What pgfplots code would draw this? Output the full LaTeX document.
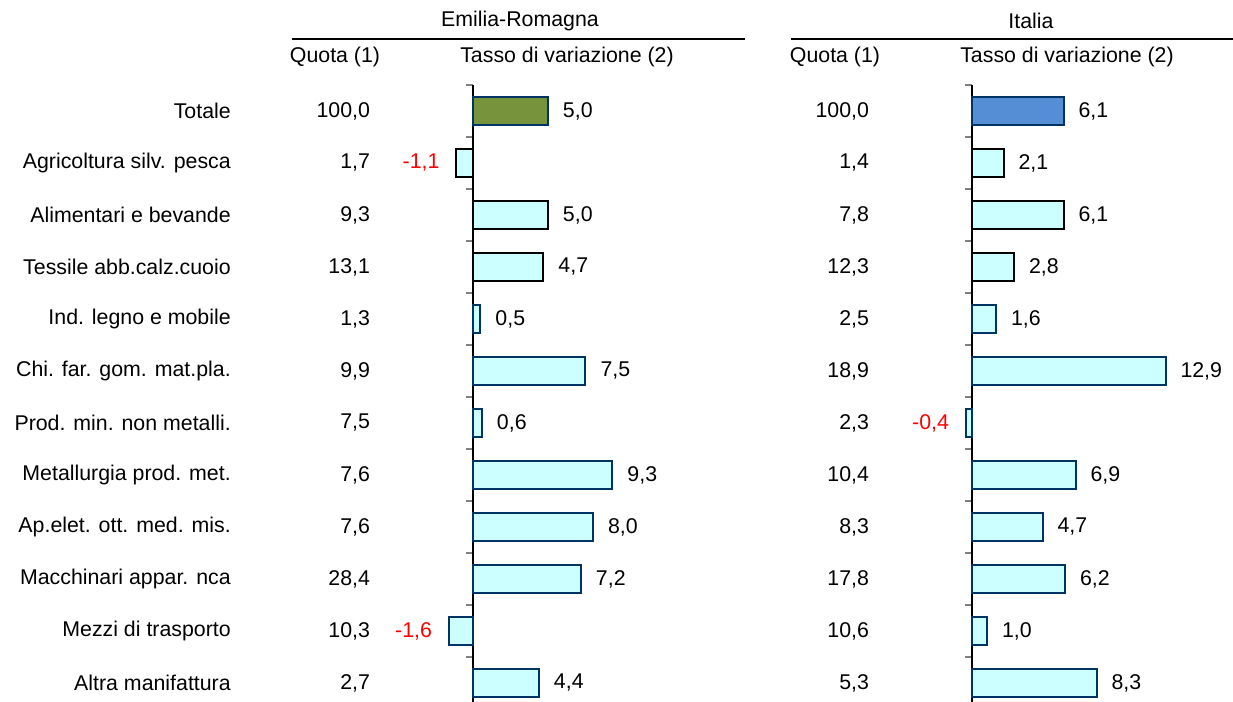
\documentclass[border=0pt]{standalone}
\usepackage{fontspec}
\setmainfont{Liberation Sans}
\usepackage{pgfplots}
\pgfplotsset{compat=1.18}
\definecolor{cyanfill}{HTML}{CCFFFF}
\definecolor{navy}{HTML}{003366}
\definecolor{olivebar}{HTML}{77933C}
\definecolor{totblue}{HTML}{558ED5}
\definecolor{tickgray}{HTML}{808080}
\newcommand{\fs}{\fontsize{16}{19}\selectfont}
\pgfplotsset{
 panel/.style={
   scale only axis, width=123.75pt, height=468pt,
   xmin=0, xmax=11, ymin=-0.5, ymax=11.5, y dir=reverse,
   axis x line=none, axis y line*=left,
   y axis line style={line width=0.9pt, black},
   ytick={0,...,11}, major tick length=0pt,
   minor ytick={-0.5,0.5,...,11.5}, minor tick length=5.25pt,
   tick align=outside, minor tick style={tickgray, line width=1.1pt},
   clip=false, anchor=south west,
   yticklabel style={font=\fs, anchor=east, inner sep=0pt, xshift=-181.5pt},
 },
 bars/.style={xbar, bar width=0.52, bar shift=0pt, line width=1.5pt,
   nodes near coords, point meta=explicit symbolic},
 posl/.style={nodes near coords style={font=\fs, inner sep=0pt, anchor=west, xshift=10.5pt, text=black}},
 negl/.style={nodes near coords style={font=\fs, inner sep=0pt, anchor=east, xshift=-12pt, text=red}},
 quota/.style={draw=none, mark=none, nodes near coords, point meta=explicit symbolic,
   nodes near coords style={font=\fs, inner sep=0pt, anchor=east, text=black}},
}
\begin{document}
\begin{tikzpicture}
\useasboundingbox (0,0) rectangle (924.75pt,526.5pt);
\clip (0,0) rectangle (924.75pt,526.5pt);

% ---------------- Emilia-Romagna ----------------
\begin{axis}[panel, at={(354.75pt,-5.25pt)},
  yticklabels={Totale, Agricoltura silv. pesca, Alimentari e bevande, Tessile abb.calz.cuoio, Ind. legno e mobile, Chi. far. gom. mat.pla., Prod. min. non metalli., Metallurgia prod. met., Ap.elet. ott. med. mis., Macchinari appar. nca, Mezzi di trasporto, Altra manifattura}]
\addplot[quota] table[meta=lab] {
x y lab
-6.85 0 100,0
-6.85 1 1,7
-6.85 2 9,3
-6.85 3 13,1
-6.85 4 1,3
-6.85 5 9,9
-6.85 6 7,5
-6.85 7 7,6
-6.85 8 7,6
-6.85 9 28,4
-6.85 10 10,3
-6.85 11 2,7
};
\addplot[bars, posl, fill=olivebar, draw=navy] table[meta=lab] {
x y lab
5.0 0 5,0
};
\addplot[bars, posl, fill=cyanfill, draw=black] table[meta=lab] {
x y lab
5.0 2 5,0
4.7 3 4,7
};
\addplot[bars, negl, fill=cyanfill, draw=black] table[meta=lab] {
x y lab
-1.1 1 -1,1
};
\addplot[bars, posl, fill=cyanfill, draw=navy] table[meta=lab] {
x y lab
0.5 4 0,5
7.5 5 7,5
0.6 6 0,6
9.3 7 9,3
8.0 8 8,0
7.2 9 7,2
4.4 11 4,4
};
\addplot[bars, negl, fill=cyanfill, draw=navy] table[meta=lab] {
x y lab
-1.6 10 -1,6
};
\end{axis}

% ---------------- Italia ----------------
\begin{axis}[panel, at={(729pt,-5.25pt)}, xmax=14, width=157.5pt, yticklabels={}]
\addplot[quota] table[meta=lab] {
x y lab
-6.85 0 100,0
-6.85 1 1,4
-6.85 2 7,8
-6.85 3 12,3
-6.85 4 2,5
-6.85 5 18,9
-6.85 6 2,3
-6.85 7 10,4
-6.85 8 8,3
-6.85 9 17,8
-6.85 10 10,6
-6.85 11 5,3
};
\addplot[bars, posl, fill=totblue, draw=navy] table[meta=lab] {
x y lab
6.1 0 6,1
};
\addplot[bars, posl, fill=cyanfill, draw=black] table[meta=lab] {
x y lab
2.1 1 2,1
6.1 2 6,1
2.8 3 2,8
};
\addplot[bars, posl, fill=cyanfill, draw=navy] table[meta=lab] {
x y lab
1.6 4 1,6
12.9 5 12,9
6.9 7 6,9
4.7 8 4,7
6.2 9 6,2
1.0 10 1,0
8.3 11 8,3
};
\addplot[bars, negl, fill=cyanfill, draw=navy] table[meta=lab] {
x y lab
-0.4 6 -0,4
};
\end{axis}

% ---------------- headers ----------------
\node[font=\fs] at (390pt,510.75pt) {Emilia-Romagna};
\node[font=\fs] at (773.25pt,510.75pt) {Italia};
\draw[line width=1.5pt] (219pt,497.25pt) -- (558.75pt,497.25pt);
\draw[line width=1.5pt] (593.25pt,497.25pt) -- (930pt,497.25pt);
\node[font=\fs] at (251.25pt,483.75pt) {Quota (1)};
\node[font=\fs] at (425.25pt,483.75pt) {Tasso di variazione (2)};
\node[font=\fs] at (626.25pt,483.75pt) {Quota (1)};
\node[font=\fs] at (800.25pt,483.75pt) {Tasso di variazione (2)};
\end{tikzpicture}
\end{document}
